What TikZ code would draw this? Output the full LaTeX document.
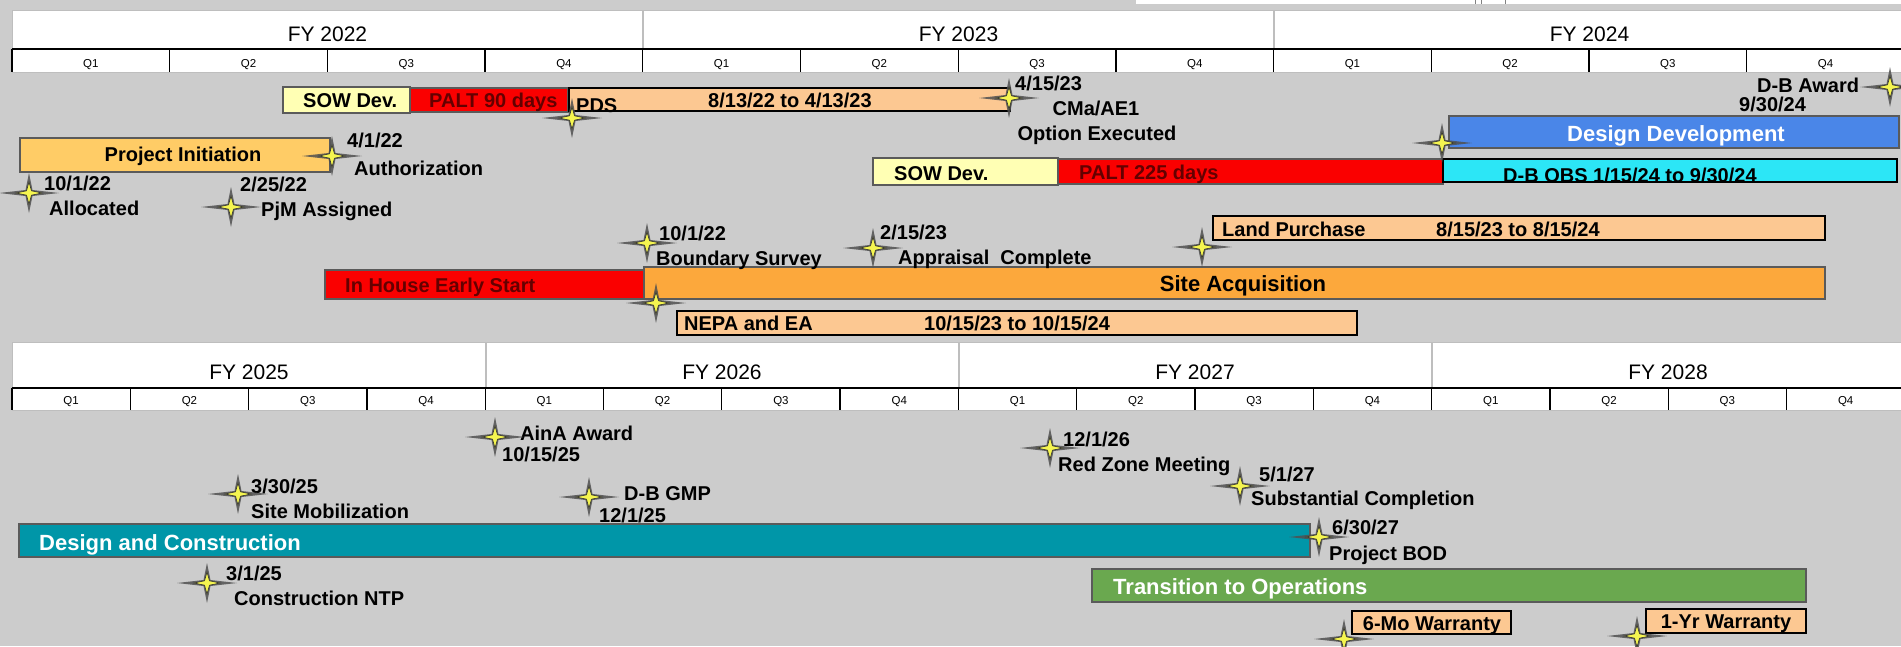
\documentclass[tikz,border=0pt]{standalone}
\usepackage{fontspec}
\setmainfont{Liberation Sans}
\definecolor{bg}{RGB}{204,204,204}
\definecolor{sowc}{RGB}{255,255,180}
\definecolor{paltc}{RGB}{250,0,0}
\definecolor{maroon}{RGB}{100,0,0}
\definecolor{peach}{RGB}{252,200,146}
\definecolor{goldc}{RGB}{255,204,102}
\definecolor{orangec}{RGB}{252,168,60}
\definecolor{bluec}{RGB}{74,134,232}
\definecolor{cyanc}{RGB}{44,230,246}
\definecolor{tealc}{RGB}{0,150,168}
\definecolor{greenc}{RGB}{106,168,79}
\definecolor{bord}{RGB}{90,90,90}
\definecolor{stargray}{RGB}{80,80,80}
\definecolor{staryel}{RGB}{245,245,80}
\definecolor{hdrline}{RGB}{190,190,190}
\begin{document}
\begin{tikzpicture}[x=1pt,y=-1pt,
  bar/.style={draw=bord,line width=2pt},
  pbar/.style={draw=black,line width=2pt,fill=peach},
  lbl/.style={font=\fontsize{20}{22}\selectfont\bfseries,inner sep=0pt},
  big/.style={font=\fontsize{22}{24}\selectfont\bfseries,inner sep=0pt},
  fylbl/.style={font=\fontsize{21}{23}\selectfont,inner sep=0pt,anchor=base},
  qlbl/.style={font=\fontsize{11.5}{13}\selectfont,inner sep=0pt,anchor=base},
  mstar/.pic={
    \fill[stargray,fill opacity=0.85] (-30,0) -- (-3.5,-3) -- (0,-20) -- (3.5,-3) -- (30,0) -- (3.5,3) -- (0,20) -- (-3.5,3) -- cycle;
    \filldraw[fill=staryel,draw=stargray!60!black,line width=0.6pt]
      (-13,0) -- (-2.5,-2.2) -- (0,-11) -- (2.5,-2.2) -- (13,0) -- (2.5,2.2) -- (0,11) -- (-2.5,2.2) -- cycle;
  }]
\useasboundingbox (0,0) rectangle (1901,646);
\fill[bg] (0,0) rectangle (1901,646);
% top-right strip
\fill[white] (1136,0) rectangle (1901,4);
\draw[gray,line width=0.8pt] (1475,0) -- (1475,4) (1481,0) -- (1481,4) (1505,0) -- (1505,4);

% ===== top header =====
\fill[white] (12,10) rectangle (1901,72);
\draw[hdrline,line width=1pt] (12,72) -- (1901,72) (12,10) -- (12,49) (12,10) -- (1901,10);
\draw[hdrline,line width=1.2pt] (643,10) -- (643,49) (1274,10) -- (1274,49);
\draw[black,line width=1.4pt] (12,49) -- (1901,49) (12,49) -- (12,72);
\foreach \k in {1,...,11} \draw[black,line width=1.3pt] ({12+157.7*\k},49) -- ({12+157.7*\k},72);
\foreach \k in {0,...,11} {
  \pgfmathtruncatemacro\q{mod(\k,4)+1}
  \node[qlbl] (qt\k) at ({12+157.7*\k+78.85},67) {Q\q};
}
\node[fylbl] (fy22) at (327.5,41) {FY 2022};
\node[fylbl] (fy23) at (958.5,41) {FY 2023};
\node[fylbl] (fy24) at (1589.5,41) {FY 2024};

% ===== bottom header =====
\fill[white] (12,342) rectangle (1901,410);
\draw[hdrline,line width=1pt] (12,410) -- (1901,410) (12,342) -- (12,388) (12,342) -- (1901,342);
\draw[hdrline,line width=1.2pt] (486,342) -- (486,388) (959,342) -- (959,388) (1432,342) -- (1432,388);
\draw[black,line width=1.4pt] (12,388) -- (1901,388) (12,388) -- (12,410);
\foreach \k in {1,...,15} \draw[black,line width=1.3pt] ({12+118.3*\k},388) -- ({12+118.3*\k},410);
\foreach \k in {0,...,15} {
  \pgfmathtruncatemacro\q{mod(\k,4)+1}
  \node[qlbl] (qb\k) at ({12+118.3*\k+59.15},404) {Q\q};
}
\node[fylbl] (fy25) at (249,379) {FY 2025};
\node[fylbl] (fy26) at (722,379) {FY 2026};
\node[fylbl] (fy27) at (1195,379) {FY 2027};
\node[fylbl] (fy28) at (1668,379) {FY 2028};

% ===== top panel bars =====
\path[bar,fill=sowc] (283,87) rectangle (410,113);
\path[bar,fill=paltc] (410,88) rectangle (568,112);
\path[pbar] (569,88) rectangle (1010,111);
\path[bar,fill=goldc] (20,138) rectangle (330,172);
\path[bar,fill=sowc] (873,158) rectangle (1058,185);
\path[bar,fill=paltc] (1058,159) rectangle (1443,184);
\path[bar,fill=bluec] (1449,116) rectangle (1899,148);
\path[draw=black,line width=2pt,fill=cyanc] (1443,159) rectangle (1897,182);
\path[pbar] (1213,216) rectangle (1825,240);
\path[bar,fill=paltc] (325,270) rectangle (644,299);
\path[bar,fill=orangec] (644,267) rectangle (1825,299);
\path[pbar] (677,311) rectangle (1357,335);

% ===== bottom panel bars =====
\path[bar,fill=tealc] (19,524) rectangle (1310,557);
\path[bar,fill=greenc] (1092,569) rectangle (1806,602);
\path[pbar] (1352,611) rectangle (1511,634);
\path[pbar] (1646,609) rectangle (1806,633);

% ===== top panel text =====
\node[lbl,anchor=base west] (sow1) at (303,107) {SOW Dev.};
\node[lbl,anchor=base west,text=maroon] (palt1) at (429,107) {PALT 90 days};
\node[lbl,anchor=base west] (pds) at (576,112) {PDS};
\node[lbl,anchor=base west] (pdsd) at (708,107) {8/13/22 to 4/13/23};
\node[lbl,anchor=base] (pinit) at (183,161) {Project Initiation};
\node[lbl,anchor=base west] (d1) at (44,190) {10/1/22};
\node[lbl,anchor=base west] (alloc) at (49,215) {Allocated};
\node[lbl,anchor=base west] (d2) at (240,191) {2/25/22};
\node[lbl,anchor=base west] (pjm) at (261,216) {PjM Assigned};
\node[lbl,anchor=base west] (d3) at (347,147) {4/1/22};
\node[lbl,anchor=base west] (auth) at (354,175) {Authorization};
\node[lbl,anchor=base west] (d4) at (1015,90) {4/15/23};
\node[lbl,anchor=base] (cma) at (1096,115) {CMa/AE1};
\node[lbl,anchor=base] (opt) at (1097,140) {Option Executed};
\node[lbl,anchor=base west] (sow2) at (894,180) {SOW Dev.};
\node[lbl,anchor=base west,text=maroon] (palt2) at (1079,179) {PALT 225 days};
\node[big,anchor=base,text=white] (ddev) at (1676,141) {Design Development};
\node[lbl,anchor=base west] (dbobs) at (1503,182) {D-B OBS 1/15/24 to 9/30/24};
\node[lbl,anchor=base west] (dbaw) at (1757,92) {D-B Award};
\node[lbl,anchor=base west] (d5) at (1739,111) {9/30/24};
\node[lbl,anchor=base west] (d6) at (659,240) {10/1/22};
\node[lbl,anchor=base west] (bsurv) at (656,265) {Boundary Survey};
\node[lbl,anchor=base west] (d7) at (880,239) {2/15/23};
\node[lbl,anchor=base west] (appr) at (898,264) {Appraisal\ \ Complete};
\node[lbl,anchor=base west] (landp) at (1222,236) {Land Purchase};
\node[lbl,anchor=base west] (landd) at (1436,236) {8/15/23 to 8/15/24};
\node[lbl,anchor=base west,text=maroon] (ihes) at (345,292) {In House Early Start};
\node[big,anchor=base] (sacq) at (1243,291) {Site Acquisition};
\node[lbl,anchor=base west] (nepa) at (684,330) {NEPA and EA};
\node[lbl,anchor=base west] (nepad) at (924,330) {10/15/23 to 10/15/24};

% ===== bottom panel text =====
\node[lbl,anchor=base west] (aina) at (520,440) {AinA Award};
\node[lbl,anchor=base west] (d8) at (502,461) {10/15/25};
\node[lbl,anchor=base west] (d9) at (251,493) {3/30/25};
\node[lbl,anchor=base west] (smob) at (251,518) {Site Mobilization};
\node[lbl,anchor=base west] (dbgmp) at (624,500) {D-B GMP};
\node[lbl,anchor=base west] (d10) at (599,522) {12/1/25};
\node[big,anchor=base west,text=white] (dac) at (39,550) {Design and Construction};
\node[lbl,anchor=base west] (d11) at (226,580) {3/1/25};
\node[lbl,anchor=base west] (cntp) at (234,605) {Construction NTP};
\node[lbl,anchor=base west] (d12) at (1063,446) {12/1/26};
\node[lbl,anchor=base west] (rzm) at (1058,471) {Red Zone Meeting};
\node[lbl,anchor=base west] (d13) at (1259,481) {5/1/27};
\node[lbl,anchor=base west] (subc) at (1251,505) {Substantial Completion};
\node[lbl,anchor=base west] (d14) at (1332,534) {6/30/27};
\node[lbl,anchor=base west] (pbod) at (1329,560) {Project BOD};
\node[big,anchor=base west,text=white] (tto) at (1113,594) {Transition to Operations};
\node[lbl,anchor=base] (w6) at (1432,630) {6-Mo Warranty};
\node[lbl,anchor=base] (w1) at (1726,628) {1-Yr Warranty};

% ===== milestones =====
\foreach \p in {(29,193),(231,207),(332,156),(572,118),(1009,98),(1442,143),(1890,87),
  (647,243),(873,248),(656,303),(1202,247),
  (495,437),(238,494),(589,497),(207,583),(1050,448),(1240,486),(1319,537),(1344,639),(1637,636)}
  \pic at \p {mstar};
\end{tikzpicture}
\end{document}
